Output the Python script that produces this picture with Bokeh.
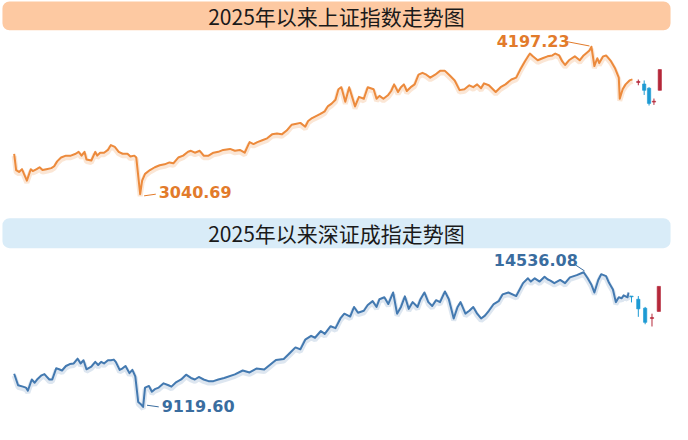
from bokeh.plotting import figure
from bokeh.models import Range1d, BoxAnnotation, Label, ColumnDataSource
from bokeh.embed import file_html
from bokeh.resources import INLINE

# ---------------- data ----------------
title_sh = "2025年以来上证指数走势图"
title_sz = "2025年以来深证成指走势图"

# Shanghai Composite (trading-day position, close)
sh_t = [0,2,5,8,10,13,17,19,23,26,29,33,38,41,44,48,53,58,63,66,
        69,72,74,79,83,85,88,92,96,99,103,107,111,116,119,123,125,129,131,134,
        139,144,149,154,159,163,168,173,178,181,185,190,194,199,204,209,214,221,226,231,
        236,241,245,249,254,259,264,269,274,279,284,289,293,298,301,305,309,313,318,321,
        325,329,332,335,339,343,346,349,353,358,362,368,371,374,378,383,386,389,393,396,
        399,402,406,410,414,418,422,426,431,436,441,446,451,456,461,466,470,474,478,481,
        486,493,498,503,509,514,518,523,528,531,536,541,546,551,554,558,561,564,568,571,
        574,579,583,589,591,594,597,599,603,606,611,615,619,620,623,626,630,633]
sh_v = [3356,3230,3215,3237,3200,3147,3237,3222,3237,3252,3230,3237,3245,3260,3298,3328,3343,3343,3358,3373,
        3343,3373,3313,3305,3373,3343,3366,3366,3388,3426,3411,3373,3358,3358,3336,3343,3328,3040.69,3147,3200,
        3230,3252,3268,3275,3290,3283,3328,3343,3373,3381,3366,3381,3343,3343,3366,3373,3388,3396,3381,3388,
        3366,3449,3434,3449,3464,3479,3510,3517,3510,3540,3585,3593,3600,3570,3615,3638,3653,3668,3691,3729,
        3751,3781,3864,3880,3766,3880,3804,3729,3804,3789,3880,3864,3789,3812,3789,3819,3850,3902,3842,3880,
        3902,3850,3880,3902,3978,3993,3978,3955,3978,4008,4008,3971,3933,3857,3864,3895,3880,3902,3872,3910,
        3895,3842,3880,3902,3940,3955,4016,4084,4144,4122,4091,4107,4122,4129,4144,4129,4084,4054,4091,4107,
        4122,4091,4129,4167,4197.23,4046,4107,4069,4122,4129,4084,4031,3955,3789,3864,3902,3933,3941]

# Shanghai recent candles
shc_t = [639, 645, 650, 655, 661]
shc_open = [3917, 3905, 3872, 3763, 3855]
shc_close = [3925, 3855, 3753, 3770, 4018]
shc_high = [3940, 3933, 3880, 3791, 4018]
shc_low = [3895, 3819, 3736, 3741, 3855]

# Shenzhen Component (trading-day position, close)
sz_t = [0,4,9,12,14,18,21,24,28,31,33,36,39,43,46,49,53,57,61,65,
        68,71,74,79,83,86,89,92,96,99,102,104,108,111,114,118,121,124,127,130,
        132,134,138,141,144,148,153,158,161,166,171,176,181,185,189,194,199,204,209,215,
        226,234,241,248,256,262,268,276,282,288,293,298,304,308,314,318,324,329,334,338,
        344,348,352,358,362,367,371,374,379,383,388,392,396,400,404,408,413,416,420,424,
        428,432,436,441,445,450,454,457,462,466,470,474,478,482,486,491,496,500,506,514,
        521,526,529,533,538,543,546,549,553,559,564,569,576,583,587,591,594,598,601,606,
        609,613,616,619,622,624,628,629]
sz_v = [10454,9988,9934,9895,9767,10221,10089,10244,10388,10438,10349,10221,10221,10671,10632,10582,10764,10841,10865,11059,
        10865,10996,10632,10737,10931,10803,10931,10865,10996,10996,11020,10931,10609,10671,10764,10477,10609,10349,9314,9213,
        9119.60,9895,9961,9729,9833,9895,10066,9988,9934,10116,10221,10415,10283,10221,10322,10221,10155,10155,10221,10283,
        10427,10582,10505,10659,10620,10814,11008,11047,11280,11512,11434,11822,11977,11900,12171,12055,12365,12287,12675,12869,
        12753,13140,12908,12986,13218,13373,13140,13451,13528,13257,13722,12869,13140,13567,13063,13334,13140,13451,13722,13334,
        13179,13412,13334,13761,13451,12675,13140,13334,12869,12986,13140,12869,12675,12792,12986,13257,13373,13645,13722,13578,
        14098,14292,14160,14292,14160,14354,14253,14199,14098,14226,14098,14330,14420,14536.08,14303,14032,13722,14226,14458,14381,
        14110,13838,13334,13528,13489,13606,13528,13722]

# Shenzhen recent candles
szc_t = [632, 639, 646, 653, 660]
szc_open = [13578, 13450, 13090, 12675, 12958]
szc_close = [13547, 13062, 12520, 12714, 13966]
szc_high = [13578, 13578, 13140, 12869, 13966]
szc_low = [13322, 12741, 12443, 12353, 12958]

assert len(sh_t) == len(sh_v), (len(sh_t), len(sh_v))
assert len(sz_t) == len(sz_v), (len(sz_t), len(sz_v))

# ---------------- styles ----------------
ORANGE = "#ec8a3c"
ORANGE_TXT = "#e27b2b"
BLUE = "#4379b0"
BLUE_TXT = "#3a6d9f"
UP = "#b5283a"
DOWN = "#1d9ad3"

p = figure(width=672, height=424, output_backend="svg", toolbar_location=None,
           x_range=Range1d(-14, 674), y_range=Range1d(1234, 4560),
           x_axis_location=None, y_axis_location=None, min_border=0,
           outline_line_color=None, background_fill_color="white",
           border_fill_color="white")
p.grid.visible = False
p.extra_y_ranges = {
    "sz": Range1d(8410, 25469),
    "sh_shadow": Range1d(1234 + 16, 4560 + 16),
    "sz_shadow": Range1d(8410 + 80, 25469 + 80),
}

# banners
p.add_layout(BoxAnnotation(left=-12, right=672, bottom=4326, top=4553,
                           fill_color="#fdc9a2", fill_alpha=1, line_color=None,
                           border_radius=7, level="underlay"))
p.add_layout(BoxAnnotation(left=-12, right=672, bottom=15505, top=16707, y_range_name="sz",
                           fill_color="#d9ecf8", fill_alpha=1, line_color=None,
                           border_radius=7, level="underlay"))
p.add_layout(Label(x=330, y=4440, text=title_sh, text_align="center", text_baseline="middle",
                   text_font="Noto Sans CJK SC", text_font_size="21px", text_color="#1a1a1a"))
p.add_layout(Label(x=330, y=16125, y_range_name="sz", text=title_sz, text_align="center",
                   text_baseline="middle", text_font="Noto Sans CJK SC", text_font_size="21px",
                   text_color="#1a1a1a"))

# lines with soft shadow
p.line(sh_t, sh_v, y_range_name="sh_shadow", line_color="#f3b888", line_width=5, line_alpha=0.35)
p.line(sh_t, sh_v, line_color=ORANGE, line_width=2, line_join="round")
p.line(sz_t, sz_v, y_range_name="sz_shadow", line_color="#9fb8d3", line_width=5, line_alpha=0.35)
p.line(sz_t, sz_v, y_range_name="sz", line_color=BLUE, line_width=2, line_join="round")

# candles
def candles(t, o, c, h, l, yname=None):
    cols = [UP if cc >= oo else DOWN for oo, cc in zip(o, c)]
    src = ColumnDataSource(dict(t=t, top=[max(a, b) for a, b in zip(o, c)],
                                bot=[min(a, b) for a, b in zip(o, c)], h=h, l=l, col=cols))
    kw = {"y_range_name": yname} if yname else {}
    p.segment(x0="t", y0="l", x1="t", y1="h", source=src, line_color="col", line_width=1, **kw)
    p.vbar(x="t", width=3.4, top="top", bottom="bot", source=src, fill_color="col",
           line_color="col", line_width=0.6, **kw)

candles(shc_t, shc_open, shc_close, shc_high, shc_low)
candles(szc_t, szc_open, szc_close, szc_high, szc_low, "sz")

# extreme labels
def extreme(t, v, label_dx, label_dy, l0, l1, color, yname=None):
    kw = {"y_range_name": yname} if yname else {}
    p.segment(x0=[t + l0[0]], y0=[v + l0[1]], x1=[t + l1[0]], y1=[v + l1[1]],
              line_color=color, line_width=1, **kw)
    lab = Label(x=t + label_dx, y=v + label_dy, text=f"{v:.2f}", text_align="left",
                text_baseline="middle", text_font="DejaVu Sans", text_font_style="bold",
                text_font_size="16px", text_color=color, **kw)
    p.add_layout(lab)

i_max = sh_v.index(max(sh_v)); i_min = sh_v.index(min(sh_v))
extreme(sh_t[i_max], sh_v[i_max], -97, 45, (-25, 40), (-2, 6), ORANGE_TXT)
extreme(sh_t[i_min], sh_v[i_min], 19, 15, (4, -13), (16, 0), ORANGE_TXT)
j_max = sz_v.index(max(sz_v)); j_min = sz_v.index(min(sz_v))
extreme(sz_t[j_max], sz_v[j_max], -92, 504, (-9, 310), (1, 50), BLUE_TXT, "sz")
extreme(sz_t[j_min], sz_v[j_min], 19, 27, (4, 66), (16, 0), BLUE_TXT, "sz")

open("out.html", "w").write(file_html(p, INLINE))
